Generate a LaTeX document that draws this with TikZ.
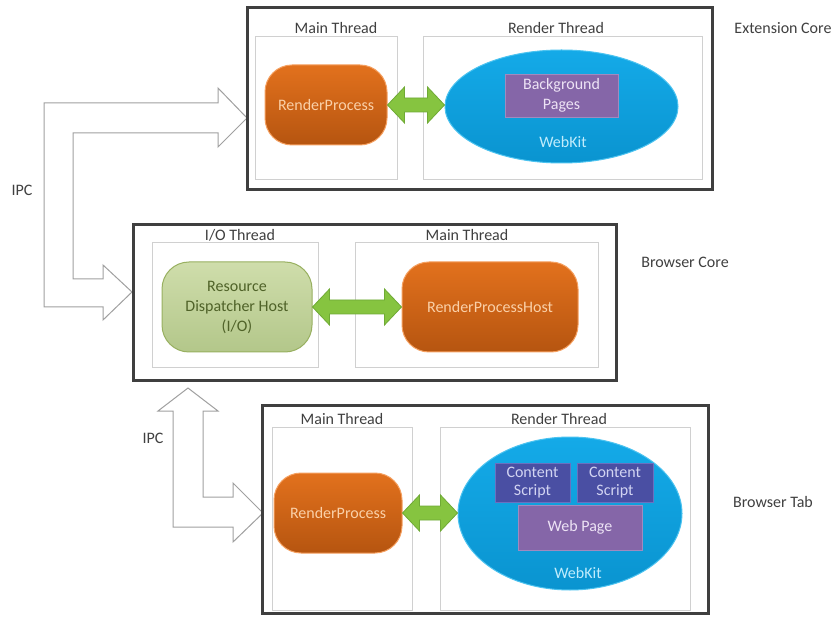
\documentclass[tikz,border=0pt]{standalone}
\usepackage{fontspec}
\setmainfont{Carlito}
\usetikzlibrary{shapes.geometric,calc}
\definecolor{boxdark}{HTML}{3F3F3F}
\definecolor{threadgray}{HTML}{D0D0D0}
\definecolor{labeltext}{HTML}{404040}
\definecolor{procTop}{HTML}{E2711D}
\definecolor{procBot}{HTML}{B65510}
\definecolor{procText}{HTML}{FAD0A8}
\definecolor{procEdge}{HTML}{F5A060}
\definecolor{rdhTop}{HTML}{CFDDAB}
\definecolor{rdhBot}{HTML}{B3C78A}
\definecolor{rdhEdge}{HTML}{98B060}
\definecolor{rdhText}{HTML}{4F6228}
\definecolor{wkTop}{HTML}{14AAE8}
\definecolor{wkBot}{HTML}{0A94D0}
\definecolor{wkEdge}{HTML}{4CC3F0}
\definecolor{wkText}{HTML}{C0ECFC}
\definecolor{bgPurple}{HTML}{8566A8}
\definecolor{bgText}{HTML}{EDE3F5}
\definecolor{bgEdge}{HTML}{A08ABF}
\definecolor{csBlue}{HTML}{4A4FA3}
\definecolor{csText}{HTML}{D2D4F2}
\definecolor{csEdge}{HTML}{6A70C0}
\definecolor{garrowFill}{HTML}{86C440}
\definecolor{garrowEdge}{HTML}{6FAA35}
\definecolor{ipcEdge}{HTML}{A0A0A0}
\newcommand\greenarrow[2]{%
  \filldraw[garrow] let \p1=(#1.east), \p2=(#2.west) in
    (\x1,\y1) -- (\x1+17pt,\y1+18pt) -- (\x1+17pt,\y1+7pt) -- (\x2-17pt,\y1+7pt)
    -- (\x2-17pt,\y1+18pt) -- (\x2,\y1) -- (\x2-17pt,\y1-18pt) -- (\x2-17pt,\y1-7pt)
    -- (\x1+17pt,\y1-7pt) -- (\x1+17pt,\y1-18pt) -- cycle;}
\begin{document}
\begin{tikzpicture}[x=1pt,y=-1pt,
  every node/.style={font=\fontsize{16}{20}\selectfont},
  outerbox/.style={draw=boxdark, line width=3pt, fill=white, inner sep=0pt},
  threadbox/.style={draw=threadgray, line width=1pt, fill=white, inner sep=0pt},
  lbl/.style={text=labeltext, inner sep=0pt},
  proc/.style={rectangle, rounded corners=27pt, top color=procTop, bottom color=procBot,
    draw=procEdge, line width=1pt, text=procText, align=center, inner sep=0pt},
  rdhstyle/.style={rectangle, rounded corners=27pt, top color=rdhTop, bottom color=rdhBot,
    draw=rdhEdge, line width=1pt, text=rdhText, align=center, inner sep=0pt},
  wk/.style={ellipse, top color=wkTop, bottom color=wkBot, draw=wkEdge, line width=1pt, inner sep=0pt},
  wklbl/.style={text=wkText, inner sep=0pt},
  pbox/.style={rectangle, fill=bgPurple, draw=bgEdge, line width=0.8pt, text=bgText, align=center, inner sep=0pt},
  csbox/.style={rectangle, fill=csBlue, draw=csEdge, line width=0.8pt, text=csText, align=center, inner sep=0pt,
    font=\fontsize{16}{18}\selectfont},
  garrow/.style={fill=garrowFill, draw=garrowEdge, line width=0.8pt, line join=miter},
  ipc/.style={draw=ipcEdge, fill=white, line width=1pt, line join=miter}
]
\useasboundingbox (0,0) rectangle (835,617);
\fill[white] (0,0) rectangle (835,617);

% ---------- IPC arrows ----------
\filldraw[ipc] (247,118) -- (218,147) -- (218,133) -- (73,133) -- (73,279) -- (103,279)
  -- (103,265) -- (132,292) -- (103,320) -- (103,307) -- (44,307) -- (44,103)
  -- (218,103) -- (218,88) -- cycle;
\filldraw[ipc] (188,388) -- (218,411) -- (203,411) -- (203,497) -- (233,497) -- (233,483)
  -- (263,513) -- (233,542) -- (233,527) -- (173,527) -- (173,411) -- (158,411) -- cycle;
\node[lbl] (ipc1) at (22,190) {IPC};
\node[lbl] (ipc2) at (153,438) {IPC};

% ---------- Extension Core ----------
\node[outerbox, minimum width=465pt, minimum height=182pt] (ext) at (479.5,99) {};
\node[threadbox, minimum width=142pt, minimum height=143pt] (extmain) at (326,108.5) {};
\node[threadbox, minimum width=279pt, minimum height=143pt] (extrender) at (562.5,108.5) {};
\node[lbl] (extmainlbl) at (336,28) {Main Thread};
\node[lbl] (extrenderlbl) at (556,28) {Render Thread};
\node[lbl] (extlbl) at (783,28) {Extension Core};
\node[proc, minimum width=122pt, minimum height=80pt] (rp1) at (326,105) {RenderProcess};
\node[wk, minimum width=233pt, minimum height=113pt] (wk1) at (561.5,106.5) {};
\node[pbox, minimum width=113pt, minimum height=43pt] (bg) at (561.5,95.5) {Background\\Pages};
\node[wklbl] (wk1lbl) at (563,142) {WebKit};
\greenarrow{rp1}{wk1}

% ---------- Browser Core ----------
\node[outerbox, minimum width=483pt, minimum height=155pt] (core) at (374.5,302.5) {};
\node[threadbox, minimum width=166pt, minimum height=125pt] (coreio) at (235,305.5) {};
\node[threadbox, minimum width=243pt, minimum height=125pt] (coremain) at (476.5,305.5) {};
\node[lbl, fill=white, inner sep=1pt] (coreiolbl) at (240,235) {I/O Thread};
\node[lbl, fill=white, inner sep=1pt] (coremainlbl) at (467,235) {Main Thread};
\node[lbl] (corelbl) at (685,262) {Browser Core};
\node[rdhstyle, minimum width=150pt, minimum height=90pt] (rdh) at (237,307) {Resource\\Dispatcher Host\\(I/O)};
\node[proc, minimum width=176pt, minimum height=90pt] (rph) at (490,307) {RenderProcessHost};
\greenarrow{rdh}{rph}

% ---------- Browser Tab ----------
\node[outerbox, minimum width=446pt, minimum height=208pt] (tab) at (485,509) {};
\node[threadbox, minimum width=140pt, minimum height=183pt] (tabmain) at (342,518.5) {};
\node[threadbox, minimum width=250pt, minimum height=183pt] (tabrender) at (565,518.5) {};
\node[lbl] (tabmainlbl) at (342,419) {Main Thread};
\node[lbl] (tabrenderlbl) at (559,419) {Render Thread};
\node[lbl] (tablbl) at (773,502) {Browser Tab};
\node[proc, minimum width=128pt, minimum height=80pt] (rp2) at (338,513) {RenderProcess};
\node[wk, minimum width=224pt, minimum height=153pt] (wk2) at (570,513.5) {};
\node[csbox, minimum width=75pt, minimum height=39pt] (cs1) at (532.5,482.5) {Content\\Script};
\node[csbox, minimum width=76pt, minimum height=39pt] (cs2) at (615,482.5) {Content\\Script};
\node[pbox, minimum width=124pt, minimum height=45pt] (wp) at (580,527.5) {Web Page};
\node[wklbl] (wk2lbl) at (578,573) {WebKit};
\greenarrow{rp2}{wk2}
\end{tikzpicture}
\end{document}
